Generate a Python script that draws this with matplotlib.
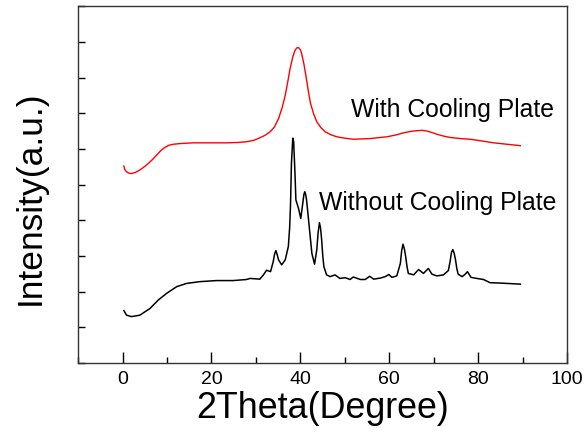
import matplotlib
matplotlib.use('Agg')
import matplotlib.pyplot as plt
from matplotlib.ticker import MultipleLocator

plt.rcParams['font.family'] = ['Liberation Sans', 'DejaVu Sans']

# With cooling plate (red)
red_x = [0.3, 0.5, 0.9, 1.4, 2.0, 2.9, 3.9, 4.8, 5.8, 6.8, 7.7, 8.6, 9.5, 10.4, 11.4,
         13.0, 15.9, 19.5, 23.4, 26.0, 27.9, 29.5, 30.9, 32.2, 33.2, 34.2, 35.1, 35.9,
         36.6, 37.2, 37.7, 38.3, 38.8, 39.2, 39.6, 40.0, 40.3, 40.8, 41.3, 41.8, 42.3,
         43.0, 43.7, 44.6, 45.6, 46.8, 48.2, 50.0, 52.0, 55.7, 59.5, 61.5, 63.2, 64.8,
         66.2, 67.4, 68.5, 69.6, 70.7, 72.2, 73.7, 76.0, 78.2, 81.0, 83.5, 86.5, 89.5]
red_y = [5.52, 5.42, 5.36, 5.32, 5.31, 5.34, 5.41, 5.49, 5.59, 5.71, 5.83, 5.95, 6.04, 6.10, 6.13,
         6.15, 6.17, 6.17, 6.17, 6.18, 6.20, 6.24, 6.31, 6.39, 6.48, 6.62, 6.85, 7.15,
         7.50, 7.90, 8.25, 8.58, 8.76, 8.83, 8.84, 8.78, 8.67, 8.38, 8.02, 7.62, 7.27,
         6.98, 6.76, 6.60, 6.48, 6.40, 6.34, 6.30, 6.27, 6.29, 6.34, 6.39, 6.45, 6.49,
         6.51, 6.52, 6.50, 6.46, 6.41, 6.36, 6.32, 6.29, 6.27, 6.22, 6.17, 6.13, 6.09]

# Without cooling plate (black)
black_x = [0.3, 0.9, 2.0, 3.9, 6.2, 8.0, 9.9, 12.2, 14.4, 17.4, 21.2, 24.9, 27.9,
           28.7, 30.9, 31.7, 32.4, 33.3, 33.9, 34.2, 34.5, 34.8, 35.1, 35.8, 36.6, 37.3,
           37.6, 37.8, 38.0, 38.3, 38.5, 38.8, 39.0, 39.6, 40.1, 40.5, 40.8, 41.0, 41.2,
           41.4, 41.7, 42.0, 42.6, 43.2, 43.7, 44.0, 44.3, 44.55, 44.8, 45.05, 45.3,
           45.9, 46.7, 47.8, 48.9, 50.1, 51.2, 51.9, 53.5, 54.6, 55.6, 56.5, 58.0,
           59.1, 59.9, 60.6, 61.7, 62.5, 62.8, 63.1, 63.4, 63.7, 64.0, 64.3, 65.5,
           66.6, 67.7, 68.8, 69.6, 70.7, 72.2, 73.3, 73.7, 74.0, 74.3, 74.6, 74.9,
           75.2, 75.5, 76.4, 77.1, 77.6, 78.4, 79.7, 81.2, 82.7, 85.0, 89.5]
black_y = [1.47, 1.34, 1.30, 1.34, 1.53, 1.76, 1.95, 2.14, 2.23, 2.28, 2.31, 2.31, 2.34,
           2.37, 2.35, 2.47, 2.60, 2.56, 2.84, 3.05, 3.15, 3.03, 2.89, 2.75, 2.89, 3.26,
           3.80, 4.47, 5.60, 6.30, 6.20, 5.30, 4.57, 4.33, 4.05, 4.43, 4.72, 4.80, 4.72,
           4.57, 4.20, 3.82, 3.07, 2.77, 3.17, 3.65, 3.93, 3.78, 3.45, 3.00, 2.70,
           2.47, 2.42, 2.47, 2.37, 2.39, 2.34, 2.41, 2.34, 2.34, 2.43, 2.35, 2.38,
           2.42, 2.48, 2.40, 2.44, 2.79, 3.15, 3.33, 3.20, 2.98, 2.70, 2.51, 2.47,
           2.62, 2.51, 2.65, 2.49, 2.44, 2.47, 2.59, 2.85, 3.10, 3.18, 3.08, 2.90,
           2.65, 2.49, 2.42, 2.49, 2.56, 2.40, 2.37, 2.34, 2.25, 2.24, 2.21]

fig = plt.figure(figsize=(5.87, 4.40), dpi=100)
ax = fig.add_axes([0.133, 0.175, 0.833, 0.811])

ax.plot(red_x, red_y, color='#ff0000', linewidth=1.0)
ax.plot(black_x, black_y, color='black', linewidth=1.1)

ax.text(51.4, 7.09, 'With Cooling Plate', fontsize=17.8, va='center', ha='left')
ax.text(44.2, 4.48, 'Without Cooling Plate', fontsize=17.8, va='center', ha='left')

ax.set_xlim(-10, 100)
ax.set_ylim(0, 10)
ax.xaxis.set_major_locator(MultipleLocator(20))
ax.xaxis.set_minor_locator(MultipleLocator(10))
ax.yaxis.set_major_locator(MultipleLocator(1))
ax.set_yticklabels([])
ax.tick_params(axis='x', which='major', direction='in', length=8, width=1, labelsize=14, pad=6)
ax.tick_params(axis='x', which='minor', direction='in', length=4, width=1)
ax.tick_params(axis='y', which='major', direction='in', length=5, width=1)
for s in ax.spines.values():
    s.set_linewidth(1.0)
    s.set_color('#333333')

ax.set_xlabel('2Theta(Degree)', fontsize=25.8, labelpad=2)
ax.set_ylabel('Intensity(a.u.)', fontsize=25.5)
ax.yaxis.set_label_coords(-0.064, 0.464)

fig.savefig('out.png', dpi=100)
